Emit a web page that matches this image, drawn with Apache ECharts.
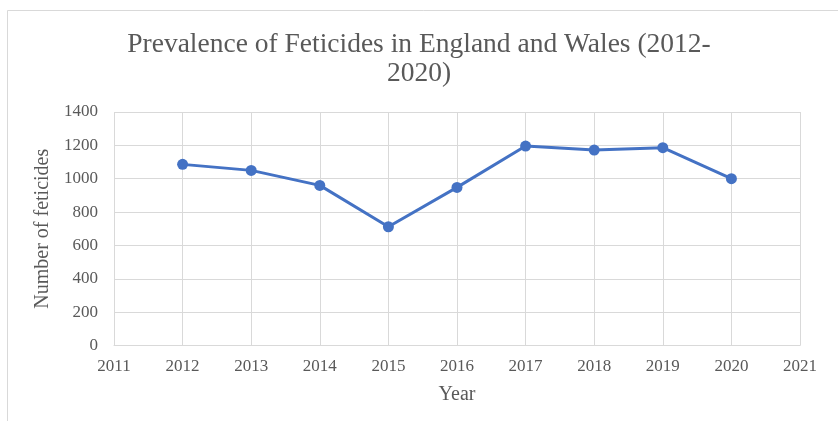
<!DOCTYPE html>
<html>
<head>
<meta charset="utf-8">
<script src="https://cdn.jsdelivr.net/npm/echarts@6/dist/echarts.min.js"></script>
<style>
  html, body { margin: 0; padding: 0; background: #fff; }
  #chart { width: 838px; height: 421px; }
</style>
</head>
<body>
<div id="chart"></div>
<script>
// Recorded feticides per year, England and Wales
const years = [2012, 2013, 2014, 2015, 2016, 2017, 2018, 2019, 2020];
const feticides = [1086, 1050, 960, 712, 948, 1196, 1172, 1186, 1000];

const titleText = 'Prevalence of Feticides in England and Wales (2012-\n2020)';
const xAxisName = 'Year';
const yAxisName = 'Number of feticides';

const serif = '"Liberation Serif", "DejaVu Serif", serif';
const textColor = '#595959';

const chart = echarts.init(document.getElementById('chart'));
chart.setOption({
  animation: false,
  backgroundColor: '#fff',
  graphic: [{
    type: 'rect',
    shape: { x: 7.5, y: 10.5, width: 840, height: 420 },
    style: { fill: 'none', stroke: '#d9d9d9', lineWidth: 1 },
    silent: true
  }],
  title: {
    text: titleText,
    left: 'center',
    top: 25,
    textStyle: {
      fontFamily: serif,
      fontSize: 27.5,
      fontWeight: 'normal',
      color: textColor,
      lineHeight: 29
    }
  },
  grid: { left: 114, right: 38, top: 112, bottom: 75.5 },
  xAxis: {
    type: 'value',
    min: 2011,
    max: 2021,
    interval: 1,
    name: xAxisName,
    nameLocation: 'middle',
    nameGap: 39,
    nameTextStyle: { fontFamily: serif, fontSize: 20, color: textColor },
    axisLine: { show: true, lineStyle: { color: '#d9d9d9', width: 1 } },
    axisTick: { show: false },
    splitLine: { show: true, lineStyle: { color: '#d9d9d9', width: 1 } },
    axisLabel: {
      fontFamily: serif, fontSize: 17, color: textColor, margin: 13,
      formatter: v => String(v)
    }
  },
  yAxis: {
    type: 'value',
    min: 0,
    max: 1400,
    interval: 200,
    name: yAxisName,
    nameLocation: 'middle',
    nameGap: 56,
    nameTextStyle: { fontFamily: serif, fontSize: 20, color: textColor },
    axisLine: { show: false },
    axisTick: { show: false },
    splitLine: { show: true, lineStyle: { color: '#d9d9d9', width: 1 } },
    axisLabel: {
      fontFamily: serif, fontSize: 17, color: textColor, margin: 16,
      formatter: v => String(v)
    }
  },
  series: [{
    type: 'line',
    data: years.map((y, i) => [y, feticides[i]]),
    symbol: 'circle',
    symbolSize: 11,
    lineStyle: { color: '#4472C4', width: 3 },
    itemStyle: { color: '#4472C4' }
  }]
});
</script>
</body>
</html>
